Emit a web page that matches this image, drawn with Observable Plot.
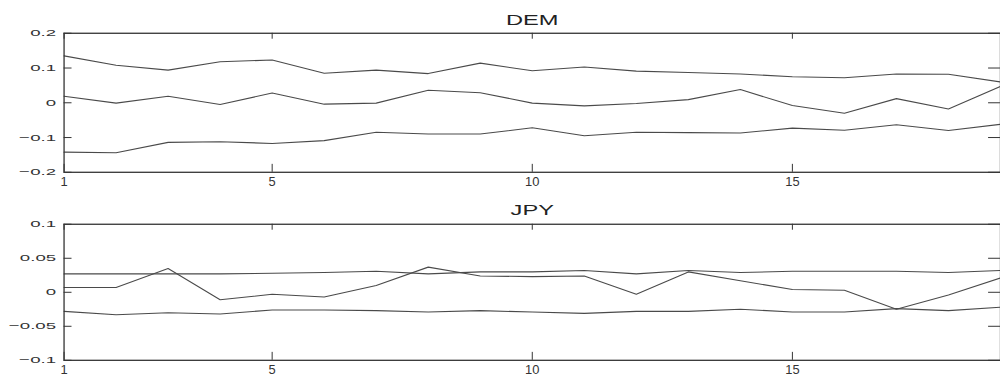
<!DOCTYPE html>
<html><head><meta charset="utf-8">
<script src="https://cdn.jsdelivr.net/npm/d3@7"></script>
<script src="https://cdn.jsdelivr.net/npm/@observablehq/plot@0.6"></script>
<style>
body{margin:0;background:#fff;overflow:hidden}
#chart{position:relative;width:1000px;height:381px;overflow:hidden;background:#fff}
#chart svg{position:absolute;left:0;background:transparent}
</style></head><body><div id="chart"></div>
<script>
const steps = [1,2,3,4,5,6,7,8,9,10,11,12,13,14,15,16,17,18,19];
const demUpper = [0.135,0.108,0.094,0.118,0.123,0.085,0.094,0.084,0.114,0.092,0.103,0.091,0.087,0.083,0.075,0.072,0.083,0.082,0.060];
const demMid   = [0.019,-0.001,0.019,-0.005,0.028,-0.004,-0.001,0.036,0.029,-0.001,-0.009,-0.002,0.009,0.038,-0.008,-0.030,0.012,-0.018,0.047];
const demLower = [-0.142,-0.144,-0.114,-0.112,-0.117,-0.109,-0.085,-0.090,-0.090,-0.072,-0.095,-0.085,-0.086,-0.087,-0.073,-0.079,-0.063,-0.080,-0.062];
const jpyUpper = [0.027,0.027,0.027,0.027,0.028,0.029,0.031,0.027,0.030,0.030,0.032,0.027,0.032,0.029,0.031,0.031,0.031,0.029,0.032];
const jpyMid   = [0.007,0.007,0.035,-0.011,-0.003,-0.007,0.010,0.037,0.024,0.023,0.024,-0.003,0.030,0.017,0.004,0.003,-0.025,-0.004,0.021];
const jpyLower = [-0.028,-0.033,-0.030,-0.032,-0.026,-0.026,-0.027,-0.029,-0.027,-0.029,-0.031,-0.028,-0.028,-0.025,-0.029,-0.029,-0.024,-0.027,-0.022];
const demTicks = [-0.2,-0.1,0,0.1,0.2];
const jpyTicks = [-0.1,-0.05,0,0.05,0.1];
const xTicks = [1,5,10,15];

const fmt = d => String(d).replace("-", "\u2212");
const FONT = "'Liberation Sans', Arial, Helvetica, sans-serif";

function stretch(svg, selector, k) {
  svg.querySelectorAll(selector).forEach(t => {
    const len = t.getComputedTextLength();
    t.setAttribute("textLength", len * k);
    t.setAttribute("lengthAdjust", "spacingAndGlyphs");
  });
}

function panel({title, upper, mid, lower, yTicks, top, height, marginTop, marginBottom, titleDy}) {
  const W = 1007, ML = 64, plotW = W - ML;
  const plotH = height - marginTop - marginBottom;
  const data = [["upper", upper], ["mid", mid], ["lower", lower]]
    .flatMap(([k, arr]) => arr.map((v, i) => ({step: steps[i], value: v, series: k})));
  const svg = Plot.plot({
    width: W, height, marginLeft: ML, marginRight: 0, marginTop, marginBottom,
    style: {fontFamily: FONT, color: "#333", background: "transparent", overflow: "visible"},
    x: {domain: [1, 19]},
    y: {domain: [yTicks[0], yTicks[yTicks.length - 1]]},
    marks: [
      Plot.lineY(data, {x: "step", y: "value", z: "series", stroke: "#4a4a4a", strokeWidth: 1.1}),
      Plot.frame({stroke: "#333", strokeWidth: 1.3}),
      Plot.tickY(yTicks, {y: d => d, insetRight: plotW - 8, stroke: "#333"}),
      Plot.tickY(yTicks, {y: d => d, insetLeft: plotW - 12, stroke: "#333"}),
      Plot.tickX(xTicks, {x: d => d, insetBottom: plotH - 6, stroke: "#333"}),
      Plot.tickX(xTicks, {x: d => d, insetTop: plotH - 8, stroke: "#333"}),
      Plot.axisY({ticks: yTicks, tickSize: 0, tickPadding: 8, tickFormat: fmt, fontSize: 10, label: null}),
      Plot.axisX({ticks: xTicks, tickSize: 0, tickPadding: 5, fontSize: 13, label: null}),
      Plot.text([title], {text: d => d, frameAnchor: "top", dy: titleDy, fontSize: 14, fill: "#222"})
    ]
  });
  svg.style.top = top + "px";
  document.getElementById("chart").appendChild(svg);
  stretch(svg, 'g[aria-label="y-axis tick label"] text', 1.88);
  stretch(svg, 'g[aria-label="text"] text', 1.7);
}

panel({title: "DEM", upper: demUpper, mid: demMid, lower: demLower, yTicks: demTicks,
       top: 0, height: 190, marginTop: 33, marginBottom: 17, titleDy: -18});
panel({title: "JPY", upper: jpyUpper, mid: jpyMid, lower: jpyLower, yTicks: jpyTicks,
       top: 190, height: 191, marginTop: 34, marginBottom: 20, titleDy: -19});
</script></body></html>
